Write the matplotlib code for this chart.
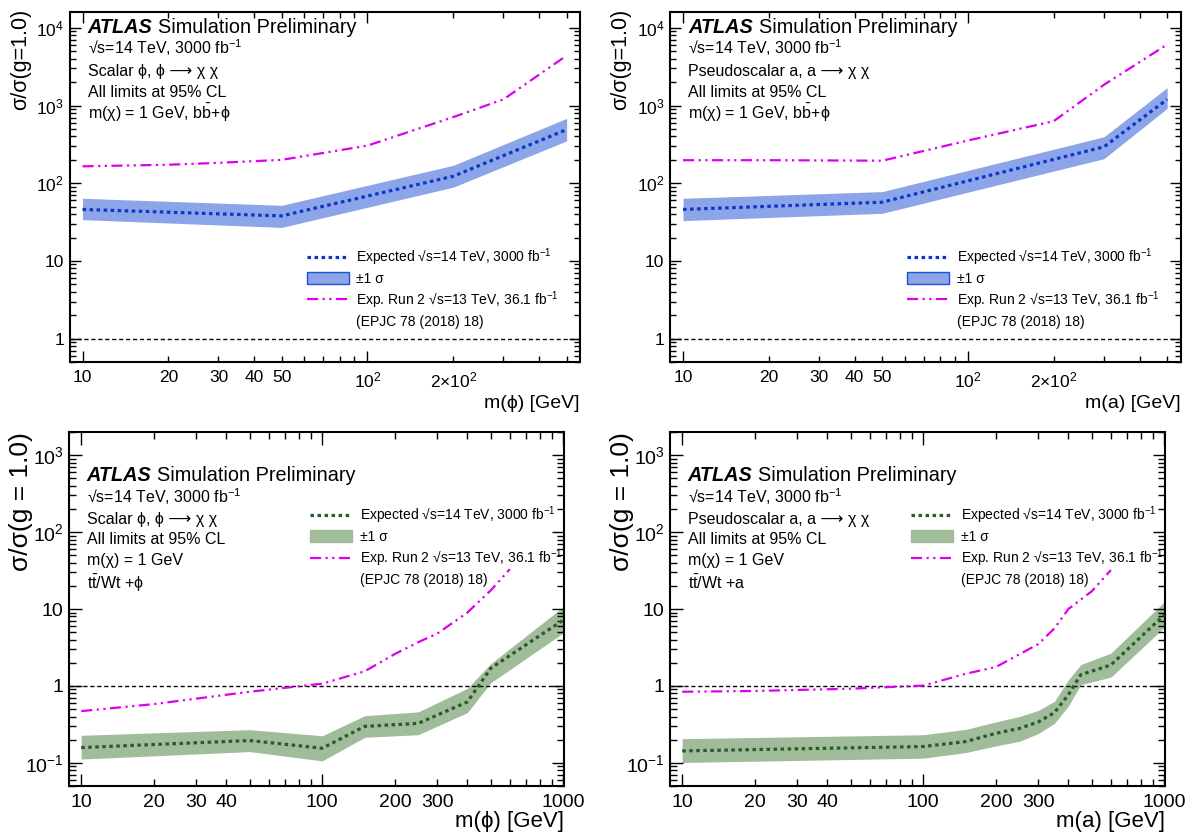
#!/usr/bin/python3
"""
plot.py

expected HL-LHC limits on sigma/sigma(g=1) for scalar / pseudoscalar
mediators, b-bbar and t-tbar/Wt associated production
"""

import matplotlib
matplotlib.use("Agg")
import matplotlib.pyplot as plt
from matplotlib.lines import Line2D
from matplotlib.patches import Patch
from matplotlib.ticker import LogLocator, NullFormatter

plt.rcParams['font.family'] = ['Liberation Sans', 'DejaVu Sans']
plt.rcParams['mathtext.fontset'] = 'custom'
plt.rcParams['mathtext.rm'] = 'Liberation Sans'
plt.rcParams['mathtext.it'] = 'Liberation Sans:italic'
plt.rcParams['mathtext.bf'] = 'Liberation Sans:bold'


# scalar, b bbar + phi
bb_scalar_mass = [10, 50, 200, 500]
bb_scalar_exp = [46, 38, 123, 490]
bb_scalar_up = [64, 52, 170, 684]
bb_scalar_dn = [34, 27, 89, 351]
bb_scalar_run2_mass = [10, 20, 30, 50, 100, 200, 300, 500]
bb_scalar_run2 = [165, 173, 183, 200, 305, 710, 1200, 4400]

# pseudoscalar, b bbar + a
bb_pseudo_mass = [10, 50, 300, 500]
bb_pseudo_exp = [46, 57, 294, 1200]
bb_pseudo_up = [64, 78, 396, 1700]
bb_pseudo_dn = [33, 41, 207, 920]
bb_pseudo_run2_mass = [10, 20, 50, 100, 200, 300, 500]
bb_pseudo_run2 = [198, 198, 195, 355, 630, 1850, 6100]

# scalar, t tbar / Wt + phi
tt_scalar_mass = [10, 50, 100, 150, 250, 400, 500, 1000]
tt_scalar_exp = [0.158, 0.195, 0.155, 0.298, 0.326, 0.62, 1.7, 7.2]
tt_scalar_up = [0.228, 0.27, 0.225, 0.41, 0.46, 0.93, 1.95, 10.7]
tt_scalar_dn = [0.112, 0.14, 0.106, 0.215, 0.232, 0.45, 1.1, 4.9]
tt_scalar_run2_mass = [10, 20, 50, 100, 150, 200, 250, 300, 400, 500, 600]
tt_scalar_run2 = [0.47, 0.58, 0.84, 1.07, 1.55, 2.6, 3.7, 4.8, 9.0, 17.5, 33]

# pseudoscalar, t tbar / Wt + a
tt_pseudo_mass = [10, 100, 150, 200, 250, 300, 350, 400, 450, 600, 1000]
tt_pseudo_exp = [0.143, 0.163, 0.189, 0.242, 0.28, 0.34, 0.45, 0.77, 1.4, 1.87, 8.4]
tt_pseudo_up = [0.206, 0.232, 0.272, 0.34, 0.40, 0.48, 0.63, 1.2, 1.89, 2.67, 12.4]
tt_pseudo_dn = [0.101, 0.115, 0.136, 0.166, 0.19, 0.24, 0.326, 0.55, 1.04, 1.30, 5.8]
tt_pseudo_run2_mass = [10, 20, 50, 100, 150, 200, 300, 350, 400, 500, 600]
tt_pseudo_run2 = [0.84, 0.86, 0.92, 1.01, 1.44, 1.76, 3.5, 5.6, 10, 17, 32]

# text labels
LEG_EXP = 'Expected \u221As=14 TeV, 3000 fb$^{-1}$'
LEG_BAND = '\u00b11 \u03c3'
LEG_RUN2 = 'Exp. Run 2 \u221As=13 TeV, 36.1 fb$^{-1}$'
LEG_REF = '(EPJC 78 (2018) 18)'
LUMI = '\u221As=14 TeV, 3000 fb$^{-1}$'
SCALAR = 'Scalar \u03d5, \u03d5 \u27f6 \u03c7 \u03c7'
PSEUDO = 'Pseudoscalar a, a \u27f6 \u03c7 \u03c7'

top_xticks = [10, 100]
top_xticklabels = ['10', '$10^{2}$']
top_xminor = [20, 30, 40, 50, 60, 70, 80, 90, 200, 300, 400, 500]
top_xminorlabels = ['20', '30', '40', '50', '', '', '', '', '$2{\\times}10^{2}$', '', '', '']
top_yticks = [1, 10, 100, 1000, 10000]
top_yticklabels = ['1', '10', '$10^{2}$', '$10^{3}$', '$10^{4}$']

bot_xticks = [10, 100, 1000]
bot_xticklabels = ['10', '100', '1000']
bot_xminor = [20, 30, 40, 50, 60, 70, 80, 90, 200, 300, 400, 500, 600, 700, 800, 900]
bot_xminorlabels = ['20', '30', '40', '', '', '', '', '', '200', '300', '', '', '', '', '', '']
bot_yticks = [0.1, 1, 10, 100, 1000]
bot_yticklabels = ['$10^{-1}$', '1', '10', '$10^{2}$', '$10^{3}$']

MAGENTA = '#dd00f0'
BLUE_LINE = '#0b36c9'
BLUE_BAND = '#8ca5e8'
BLUE_EDGE = '#2050e0'
GREEN_LINE = '#2b5a2b'
GREEN_BAND = '#a0bc9a'


def draw_panel(ax, mass, exp, up, dn, run2_mass, run2, line_col, band_col,
               band_edge, info, xlabel, ylabel, top_row):
    """
    Draws one limit panel into ax
    """
    ax.fill_between(mass, dn, up, color=band_col, lw=0, zorder=1)
    ax.plot(mass, exp, color=line_col, lw=2.3, ls=(0, (1.1, 1.1)), zorder=3)
    ax.plot(run2_mass, run2, color=MAGENTA, lw=1.6, ls=(0, (5, 2, 1, 2, 1, 2)), zorder=3)
    ax.axhline(1, color='k', lw=1.0, ls=(0, (3, 2)), zorder=2)

    ax.set_xscale('log')
    ax.set_yscale('log')
    if top_row:
        ax.set_xlim(9, 557)
        ax.set_ylim(0.5, 1.6e4)
        ax.set_xticks(top_xticks, labels=top_xticklabels)
        ax.set_xticks(top_xminor, labels=top_xminorlabels, minor=True)
        ax.set_yticks(top_yticks, labels=top_yticklabels)
        tsize, xlsize, ylsize, maj, mnr = 12.5, 14, 15.5, 8, 4.5
        leg_anchor = (0.465, 0.33)
        info_y = [0.957, 0.897, 0.829, 0.769, 0.711]
        xlab_y, ylab_x, ylab_y = -0.094, -0.076, 1.01
    else:
        ax.set_xlim(8.9, 1010)
        ax.set_ylim(0.05, 2000)
        ax.set_xticks(bot_xticks, labels=bot_xticklabels)
        ax.set_xticks(bot_xminor, labels=bot_xminorlabels, minor=True)
        ax.set_yticks(bot_yticks, labels=bot_yticklabels)
        tsize, xlsize, ylsize, maj, mnr = 14, 16, 19, 9, 5
        leg_anchor = (0.487, 0.795)
        info_y = [0.876, 0.816, 0.754, 0.695, 0.636, 0.573]
        xlab_y, ylab_x, ylab_y = -0.072, -0.072, 1.0
    ax.yaxis.set_minor_locator(LogLocator(base=10, subs=range(2, 10), numticks=20))
    ax.yaxis.set_minor_formatter(NullFormatter())

    ax.tick_params(which='both', direction='in', top=True, right=True,
                   labelsize=tsize, width=1.0)
    ax.tick_params(which='major', length=maj)
    ax.tick_params(which='minor', length=mnr)
    ax.tick_params(axis='x', which='both', pad=6)
    ax.tick_params(axis='y', which='both', pad=4)
    for spine in ax.spines.values():
        spine.set_linewidth(1.5)

    ax.set_xlabel(xlabel, loc='right', fontsize=xlsize)
    ax.xaxis.set_label_coords(1.0, xlab_y)
    ax.set_ylabel(ylabel, loc='top', fontsize=ylsize)
    ax.yaxis.set_label_coords(ylab_x, ylab_y)

    # ATLAS label and info block
    atlas = ax.text(0.036, info_y[0], 'ATLAS', transform=ax.transAxes,
                    fontsize=14.3, weight='bold', style='italic', va='center')
    ax.annotate('Simulation Preliminary', xy=(1, 0), xycoords=atlas,
                xytext=(4, 0), textcoords='offset points', fontsize=14.3,
                va='bottom')
    for line, y in zip(info, info_y[1:]):
        ax.text(0.036, y, line, transform=ax.transAxes, fontsize=11.5, va='center')

    handles = [
        Line2D([], [], color=line_col, lw=2.3, ls=(0, (1.1, 1.1))),
        Patch(facecolor=band_col, edgecolor=band_edge, lw=1.0),
        Line2D([], [], color=MAGENTA, lw=1.6, ls=(0, (5, 2, 1, 2, 1, 2))),
        Line2D([], [], color='none'),
    ]
    ax.legend(handles, [LEG_EXP, LEG_BAND, LEG_RUN2, LEG_REF],
              loc='upper left', bbox_to_anchor=leg_anchor, frameon=False,
              fontsize=10, borderpad=0, borderaxespad=0, handlelength=3.0,
              handleheight=1.0, handletextpad=0.55, labelspacing=0.26)


def main():
    fig = plt.figure(figsize=(12.02, 8.36), dpi=100)
    W, H = 1202.0, 836.0
    ax_tl = fig.add_axes([69.5 / W, 1 - 362 / H, 510.5 / W, 350 / H])
    ax_tr = fig.add_axes([670 / W, 1 - 362 / H, 510.5 / W, 350 / H])
    ax_bl = fig.add_axes([69 / W, 1 - 786 / H, 495.4 / W, 354 / H])
    ax_br = fig.add_axes([670 / W, 1 - 786 / H, 495.4 / W, 354 / H])

    draw_panel(ax_tl, bb_scalar_mass, bb_scalar_exp, bb_scalar_up, bb_scalar_dn,
               bb_scalar_run2_mass, bb_scalar_run2, BLUE_LINE, BLUE_BAND, BLUE_EDGE,
               [LUMI, SCALAR, 'All limits at 95% CL',
                'm(\u03c7) = 1 GeV, b$\\bar{\\mathrm{b}}$+\u03d5'],
               'm(\u03d5) [GeV]', '\u03c3/\u03c3(g=1.0)', True)
    draw_panel(ax_tr, bb_pseudo_mass, bb_pseudo_exp, bb_pseudo_up, bb_pseudo_dn,
               bb_pseudo_run2_mass, bb_pseudo_run2, BLUE_LINE, BLUE_BAND, BLUE_EDGE,
               [LUMI, PSEUDO, 'All limits at 95% CL',
                'm(\u03c7) = 1 GeV, b$\\bar{\\mathrm{b}}$+\u03d5'],
               'm(a) [GeV]', '\u03c3/\u03c3(g=1.0)', True)
    draw_panel(ax_bl, tt_scalar_mass, tt_scalar_exp, tt_scalar_up, tt_scalar_dn,
               tt_scalar_run2_mass, tt_scalar_run2, GREEN_LINE, GREEN_BAND, GREEN_BAND,
               [LUMI, SCALAR, 'All limits at 95% CL',
                'm(\u03c7) = 1 GeV', 't$\\bar{\\mathrm{t}}$/Wt +\u03d5'],
               'm(\u03d5) [GeV]', '\u03c3/\u03c3(g = 1.0)', False)
    draw_panel(ax_br, tt_pseudo_mass, tt_pseudo_exp, tt_pseudo_up, tt_pseudo_dn,
               tt_pseudo_run2_mass, tt_pseudo_run2, GREEN_LINE, GREEN_BAND, GREEN_BAND,
               [LUMI, PSEUDO, 'All limits at 95% CL',
                'm(\u03c7) = 1 GeV', 't$\\bar{\\mathrm{t}}$/Wt +a'],
               'm(a) [GeV]', '\u03c3/\u03c3(g = 1.0)', False)

    fig.savefig('out.png', dpi=100)


main()
